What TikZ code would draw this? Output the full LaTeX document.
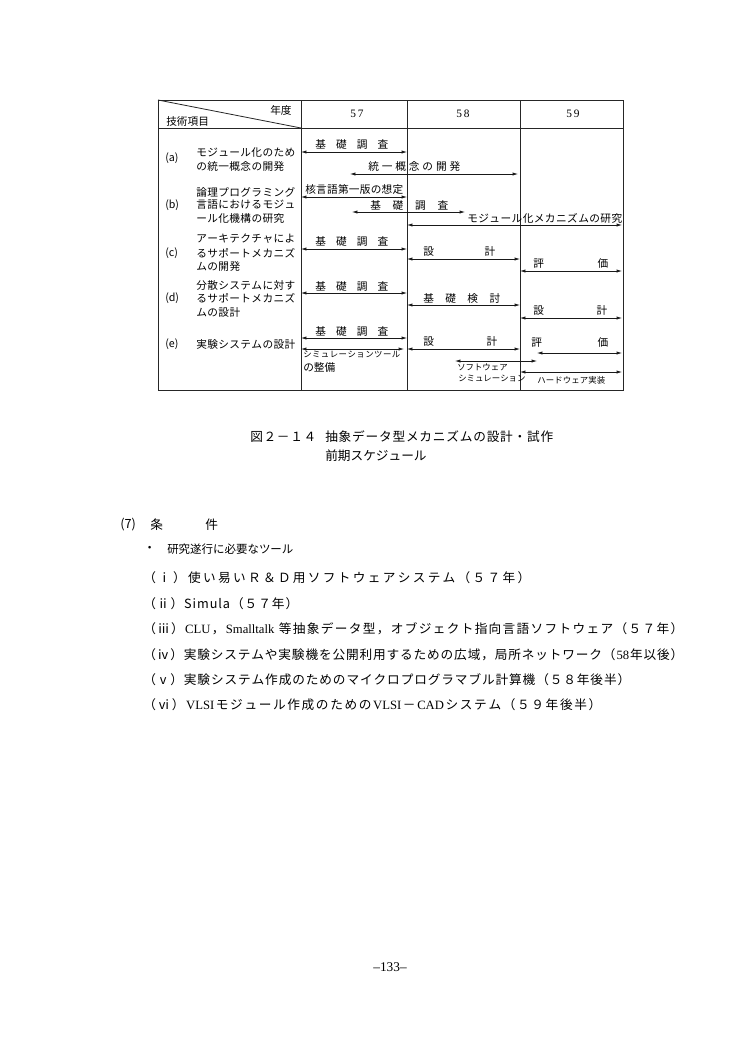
\documentclass[tikz,border=0pt]{standalone}
\usepackage{fontspec}
\setmainfont{Noto Sans CJK JP}
\newfontfamily\lat{Liberation Serif}
\usetikzlibrary{arrows.meta}

\newdimen\unitpx \unitpx=0.75pt
% letter-spaced text: every token gets stretchable glue after it
\makeatletter
\def\sp@stop{\sp@stop@}
\def\spreadchars#1{\def\sp@arg{#1}\ifx\sp@arg\sp@stop\else{#1}\hskip0pt plus1fil\relax\expandafter\spreadchars\fi}
\newcommand\spaced[2]{\hbox to #1\unitpx{\spreadchars#2\sp@stop@\unskip}}
\makeatother

% one schedule bar between two named points
\newcommand\plan[4]{\coordinate (#1s) at (#2,#4); \coordinate (#1e) at (#3,#4);
  \draw[bar] (#1s) -- (#1e);}

\tikzset{
  rule/.style={line width=0.6pt, black!85},
  bar/.style={{Latex[length=4pt,width=2.4pt]}-{Latex[length=4pt,width=2.4pt]}, line width=0.5pt, black!90},
  cell/.style={inner sep=0pt, anchor=west, font=\fontsize{8}{9}\selectfont},
  smalltxt/.style={cell, font=\fontsize{6.3}{7}\selectfont},
  body/.style={inner sep=0pt, anchor=west, font=\fontsize{9.5}{11}\selectfont}
}

\begin{document}
\begin{tikzpicture}[x=0.75pt, y=-0.75pt]
  \fill[white] (0,0) rectangle (750,1054);
  \useasboundingbox (0,0) rectangle (750,1054);

  % table frame
  \draw[rule] (158,100) rectangle (623,390);
  \draw[rule] (158,128) -- (623,128);
  \draw[rule] (158,100) -- (301,128);
  \foreach \x in {301,407,520} \draw[rule] (\x,100) -- (\x,390);

  % header
  \node[cell] (nendo) at (270,110) {年度};
  \node[cell] (gijutsu) at (166,121) {技術項目};
  \node[cell, anchor=center, font=\lat\fontsize{8.5}{9}\selectfont] (y57) at (357,114) {5\,7};
  \node[cell, anchor=center, font=\lat\fontsize{8.5}{9}\selectfont] (y58) at (463,114) {5\,8};
  \node[cell, anchor=center, font=\lat\fontsize{8.5}{9}\selectfont] (y59) at (573,114) {5\,9};

  % item column
  \node[cell] (ta) at (165,158) {(a)};
  \node[cell] (ta1) at (196,153) {\spaced{99}{モジュール化のため}};
  \node[cell] (ta2) at (196,166) {\spaced{88}{の統一概念の開発}};
  \node[cell] (tb) at (165,205) {(b)};
  \node[cell] (tb1) at (196,192) {\spaced{99}{論理プログラミング}};
  \node[cell] (tb2) at (196,205) {\spaced{99}{言語におけるモジュ}};
  \node[cell] (tb3) at (196,218) {\spaced{88}{ール化機構の研究}};
  \node[cell] (tc) at (165,253) {(c)};
  \node[cell] (tc1) at (196,239) {\spaced{99}{アーキテクチャによ}};
  \node[cell] (tc2) at (196,253) {\spaced{99}{るサポートメカニズ}};
  \node[cell] (tc3) at (196,266) {\spaced{44}{ムの開発}};
  \node[cell] (td) at (165,298) {(d)};
  \node[cell] (td1) at (196,285) {\spaced{99}{分散システムに対す}};
  \node[cell] (td2) at (196,298) {\spaced{99}{るサポートメカニズ}};
  \node[cell] (td3) at (196,312) {\spaced{44}{ムの設計}};
  \node[cell] (te) at (165,344) {(e)};
  \node[cell] (te1) at (196,344) {\spaced{99}{実験システムの設計}};

  % (a)
  \plan{a1}{301}{407}{152}
  \node[cell] (a1t) at (315,144) {\spaced{73}{基礎調査}};
  \plan{a2}{350}{518}{174}
  \node[cell] (a2t) at (368,166) {\spaced{92}{統一概念の開発}};
  % (b)
  \plan{b1}{301}{407}{197}
  \node[cell] (b1t) at (305,189) {\spaced{98}{核言語第一版の想定}};
  \plan{b2}{352}{465}{212}
  \node[cell] (b2t) at (370,205) {\spaced{78}{基礎調査}};
  \plan{b3}{407}{622}{225}
  \node[cell] (b3t) at (467,218) {\spaced{155}{モジュール化メカニズムの研究}};
  % (c)
  \plan{c1}{301}{407}{249}
  \node[cell] (c1t) at (315,241) {\spaced{73}{基礎調査}};
  \plan{c2}{407}{520}{259}
  \node[cell] (c2t) at (423,251) {\spaced{72}{設計}};
  \plan{c3}{520}{622}{271}
  \node[cell] (c3t) at (533,263) {\spaced{75}{評価}};
  % (d)
  \plan{d1}{301}{407}{293}
  \node[cell] (d1t) at (315,286) {\spaced{73}{基礎調査}};
  \plan{d2}{407}{520}{305}
  \node[cell] (d2t) at (423,298) {\spaced{77}{基礎検討}};
  \plan{d3}{520}{622}{318}
  \node[cell] (d3t) at (533,310) {\spaced{74}{設計}};
  % (e)
  \plan{e1}{301}{407}{338}
  \node[cell] (e1t) at (315,331) {\spaced{73}{基礎調査}};
  \plan{e2}{301}{404}{349}
  \node[smalltxt] (e2t) at (303,355) {\spaced{97}{シミュレーションツール}};
  \node[cell] (e2u) at (303,367) {\spaced{32}{の整備}};
  \plan{e3}{407}{520}{349}
  \node[cell] (e3t) at (423,341) {\spaced{74}{設計}};
  \plan{e4}{537}{622}{353}
  \node[cell] (e4t) at (531,342) {\spaced{77}{評価}};
  \plan{e5}{455}{537}{361}
  \node[smalltxt] (e5t) at (457,367) {\spaced{43}{ソフトウェア}};
  \node[smalltxt] (e5u) at (458,379) {\spaced{58}{シミュレーション}};
  \plan{e6}{520}{622}{372}
  \node[smalltxt] (e6t) at (537,380) {\spaced{68}{ハードウェア実装}};

  % caption
  \node[body] (cap1) at (250,437) {\spaced{66}{図２－１４}};
  \node[body] (cap2) at (325,437) {\spaced{228}{抽象データ型メカニズムの設計・試作}};
  \node[body] (cap3) at (325,456) {\spaced{95}{前期スケジュール}};

  % conditions
  \node[body] (sec) at (120,525) {(7)};
  \node[body] (sec1) at (150,525) {条};
  \node[body] (sec2) at (205,525) {件};
  \node[body] (bul) at (143,549) {・};
  \node[body, font=\fontsize{8.6}{10}\selectfont] (tools) at (167,549) {\spaced{118}{研究遂行に必要なツール}};
  \node[body] (t1) at (143,578) {\spaced{387}{（ⅰ）使い易いＲ＆Ｄ用ソフトウェアシステム（５７年）}};
  \node[body] (t2) at (143,604) {\spaced{155}{（ⅱ）Simula（５７年）}};
  \node[body] (t3) at (143,629) {\spaced{540}{（ⅲ）{\lat CLU}，{\lat Smalltalk\ }等抽象データ型，オブジェクト指向言語ソフトウェア（５７年）}};
  \node[body] (t4) at (143,655) {\spaced{540}{（ⅳ）実験システムや実験機を公開利用するための広域，局所ネットワーク（{\lat 58}年以後）}};
  \node[body] (t5) at (143,680) {\spaced{487}{（ⅴ）実験システム作成のためのマイクロプログラマブル計算機（５８年後半）}};
  \node[body] (t6) at (143,705) {\spaced{458}{（ⅵ）{\lat VLSI}モジュール作成のための{\lat VLSI}－{\lat CAD}システム（５９年後半）}};

  % page number
  \node[body, anchor=center, font=\lat\fontsize{10}{12}\selectfont] (pg) at (390,967) {–133–};
\end{tikzpicture}
\end{document}
